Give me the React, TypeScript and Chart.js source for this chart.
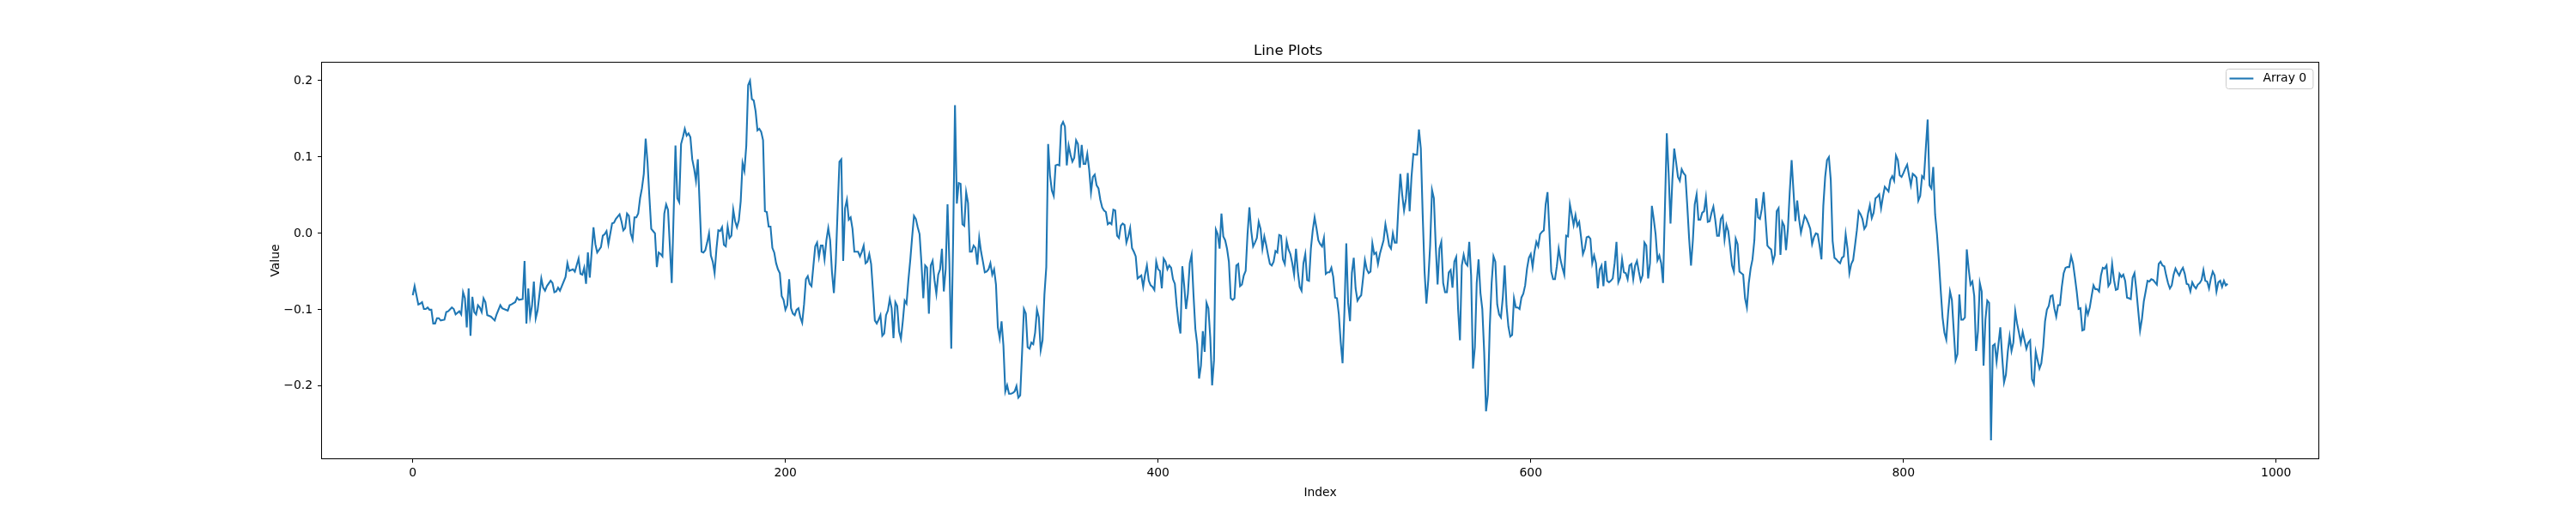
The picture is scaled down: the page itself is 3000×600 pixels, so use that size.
import React, { useEffect, useRef } from "react";
import { Chart, registerables } from "chart.js";

Chart.register(...registerables);

// first stretch of the series: some indices were not readable, so they are listed
const earlyIndex = [
  0, 1, 3, 4, 5, 6, 7, 8, 9, 10,
  11, 12, 13, 14, 15, 17, 18, 19, 21, 22,
  23, 25, 26, 27, 28, 29, 30, 31, 32, 33,
  34, 35, 36, 37, 38, 39, 40, 41, 42, 44,
  45, 47, 48, 50, 51, 52, 53, 55, 56, 57,
  59, 60, 61, 62, 63, 64, 65, 66, 67, 68,
  69, 70, 71, 72, 74, 75, 76, 77, 78, 79,
  80, 82, 83, 84, 86, 87, 89, 90, 91, 92,
  93, 94, 95, 97, 98, 99, 101, 102, 103, 104,
  105, 107, 108, 109, 111, 112, 113, 114, 115, 116,
  117, 118, 119, 120, 121, 122, 123, 124, 125, 126,
  127, 128, 129, 130, 131, 132, 133, 134, 135, 136,
  137, 139, 141, 142, 143, 144, 145, 146, 147, 148,
  149, 150, 151, 152, 153, 154, 155, 156, 157, 158,
  159, 160, 161, 162, 163, 164, 165, 166, 167, 168,
  169, 170, 171, 172, 173, 174, 175, 176, 177, 178,
  179, 180, 181, 182, 183, 184, 185, 186, 187, 188,
  189, 190, 191, 192, 193, 194, 195, 196, 197, 198,
];

const earlyValues = [
  -0.081, -0.069, -0.093, -0.092, -0.09, -0.099, -0.099, -0.097, -0.1, -0.1,
  -0.118, -0.118, -0.111, -0.111, -0.114, -0.113, -0.103, -0.102, -0.097, -0.099,
  -0.106, -0.102, -0.106, -0.077, -0.085, -0.123, -0.072, -0.134, -0.083, -0.103,
  -0.106, -0.094, -0.097, -0.103, -0.085, -0.09, -0.107, -0.108, -0.109, -0.114,
  -0.106, -0.094, -0.098, -0.1, -0.101, -0.094, -0.093, -0.09, -0.084, -0.087,
  -0.086, -0.036, -0.118, -0.072, -0.109, -0.095, -0.063, -0.111, -0.101, -0.08,
  -0.059, -0.071, -0.075, -0.069, -0.062, -0.065, -0.077, -0.076, -0.071, -0.075,
  -0.069, -0.057, -0.039, -0.049, -0.047, -0.05, -0.033, -0.053, -0.054, -0.045,
  -0.066, -0.025, -0.058, 0.008, -0.014, -0.025, -0.018, -0.003, -0.001, 0.003,
  -0.014, 0.013, 0.014, 0.019, 0.025, 0.016, 0.004, 0.007, 0.026, 0.023,
  0.0, -0.008, 0.021, 0.021, 0.026, 0.046, 0.059, 0.078, 0.124, 0.093,
  0.048, 0.006, 0.003, 0.0, -0.044, -0.025, -0.027, -0.03, 0.026, 0.038,
  0.031, -0.065, 0.115, 0.046, 0.041, 0.117, 0.126, 0.137, 0.128, 0.131,
  0.126, 0.097, 0.085, 0.069, 0.097, 0.036, -0.024, -0.025, -0.022, -0.012,
  0.0, -0.029, -0.037, -0.052, -0.02, 0.004, 0.003, 0.008, -0.015, -0.017,
  0.009, -0.006, -0.003, 0.031, 0.016, 0.008, 0.017, 0.042, 0.092, 0.082,
  0.115, 0.194, 0.2, 0.176, 0.174, 0.16, 0.135, 0.137, 0.133, 0.122,
  0.029, 0.028, 0.009, 0.009, -0.019, -0.025, -0.039, -0.047, -0.052, -0.082,
];

// from index 199 on every index was read, one value each
const laterStart = 199;
const laterValues = [
  -0.087, -0.1, -0.094, -0.06, -0.098, -0.105, -0.107, -0.1, -0.098, -0.11,
  -0.117, -0.093, -0.06, -0.056, -0.066, -0.069, -0.043, -0.017, -0.012, -0.031,
  -0.016, -0.016, -0.034, -0.009, 0.007, -0.009, -0.051, -0.078, -0.039, 0.029,
  0.094, 0.097, -0.036, 0.033, 0.044, 0.018, 0.021, 0.006, -0.024, -0.024,
  -0.024, -0.03, -0.024, -0.016, -0.039, -0.037, -0.027, -0.04, -0.076, -0.114,
  -0.118, -0.113, -0.107, -0.134, -0.131, -0.107, -0.101, -0.086, -0.098, -0.137,
  -0.09, -0.095, -0.128, -0.138, -0.115, -0.088, -0.092, -0.061, -0.035, -0.005,
  0.023, 0.019, 0.008, -0.001, -0.039, -0.085, -0.042, -0.045, -0.105, -0.042,
  -0.036, -0.061, -0.079, -0.054, -0.047, -0.02, -0.076, -0.047, 0.038, -0.039,
  -0.151, -0.009, 0.168, 0.039, 0.066, 0.065, 0.012, 0.01, 0.054, 0.04,
  -0.024, -0.024, -0.016, -0.019, -0.041, -0.006, -0.024, -0.037, -0.051, -0.05,
  -0.047, -0.039, -0.054, -0.047, -0.067, -0.123, -0.137, -0.115, -0.147, -0.207,
  -0.199, -0.21, -0.21, -0.209, -0.207, -0.2, -0.215, -0.212, -0.157, -0.099,
  -0.105, -0.149, -0.151, -0.143, -0.145, -0.13, -0.1, -0.11, -0.153, -0.14,
  -0.08, -0.044, 0.117, 0.076, 0.056, 0.049, 0.089, 0.09, 0.089, 0.141,
  0.146, 0.14, 0.089, 0.115, 0.103, 0.094, 0.099, 0.122, 0.117, 0.086,
  0.116, 0.091, 0.091, 0.104, 0.084, 0.054, 0.074, 0.077, 0.063, 0.059,
  0.044, 0.034, 0.03, 0.028, 0.012, 0.014, 0.012, 0.031, 0.03, -0.003,
  -0.006, 0.01, 0.013, 0.011, -0.012, -0.004, 0.007, -0.019, -0.024, -0.03,
  -0.059, -0.057, -0.055, -0.07, -0.054, -0.042, -0.062, -0.068, -0.07, -0.074,
  -0.037, -0.047, -0.049, -0.072, -0.033, -0.037, -0.047, -0.042, -0.045, -0.06,
  -0.066, -0.095, -0.117, -0.131, -0.043, -0.068, -0.099, -0.079, -0.039, -0.028,
  -0.08, -0.125, -0.145, -0.19, -0.173, -0.128, -0.155, -0.091, -0.098, -0.136,
  -0.199, -0.166, 0.005, -0.001, -0.02, 0.026, -0.004, -0.009, -0.02, -0.037,
  -0.085, -0.087, -0.085, -0.042, -0.04, -0.069, -0.067, -0.055, -0.049, -0.001,
  0.034, 0.003, -0.017, -0.012, -0.006, 0.015, 0.006, -0.02, -0.004, -0.015,
  -0.028, -0.04, -0.042, -0.037, -0.023, -0.025, -0.002, -0.003, -0.034, -0.04,
  -0.01, -0.021, -0.027, -0.039, -0.054, -0.02, -0.05, -0.07, -0.075, -0.039,
  -0.027, -0.061, -0.062, -0.02, 0.004, 0.021, 0.007, -0.009, -0.014, -0.017,
  -0.006, -0.053, -0.051, -0.051, -0.045, -0.057, -0.084, -0.085, -0.106, -0.142,
  -0.17, -0.102, -0.013, -0.091, -0.115, -0.052, -0.032, -0.072, -0.088, -0.084,
  -0.081, -0.059, -0.035, -0.047, -0.052, -0.05, -0.013, -0.027, -0.025, -0.04,
  -0.027, -0.018, -0.009, 0.012, -0.001, -0.016, -0.02, 0.0, -0.012, -0.012,
  0.036, 0.078, 0.051, 0.03, 0.045, 0.079, 0.029, 0.074, 0.104, 0.103,
  0.103, 0.136, 0.111, 0.025, -0.05, -0.092, -0.061, -0.016, 0.057, 0.046,
  -0.016, -0.067, -0.02, -0.011, -0.065, -0.077, -0.077, -0.051, -0.048, -0.071,
  -0.037, -0.031, -0.099, -0.14, -0.042, -0.028, -0.039, -0.042, -0.011, -0.055,
  -0.177, -0.149, -0.065, -0.034, -0.078, -0.099, -0.155, -0.233, -0.211, -0.123,
  -0.065, -0.03, -0.037, -0.093, -0.106, -0.11, -0.084, -0.042, -0.095, -0.122,
  -0.135, -0.133, -0.085, -0.097, -0.097, -0.099, -0.084, -0.079, -0.068, -0.046,
  -0.032, -0.027, -0.044, -0.024, -0.011, -0.017, -0.001, 0.002, 0.004, 0.038,
  0.054, 0.003, -0.05, -0.06, -0.06, -0.043, -0.02, -0.035, -0.045, -0.054,
  -0.003, -0.004, 0.038, 0.025, 0.011, 0.024, 0.01, 0.015, -0.005, -0.027,
  -0.02, -0.005, -0.004, -0.007, -0.039, -0.029, -0.039, -0.072, -0.047, -0.042,
  -0.069, -0.036, -0.062, -0.064, -0.062, -0.059, -0.039, -0.011, -0.064, -0.058,
  -0.034, -0.051, -0.052, -0.06, -0.042, -0.04, -0.06, -0.042, -0.036, -0.05,
  -0.062, -0.055, -0.012, -0.016, -0.059, -0.039, 0.036, 0.019, -0.001, -0.035,
  -0.029, -0.039, -0.065, 0.033, 0.131, 0.078, 0.013, 0.07, 0.111, 0.093,
  0.074, 0.069, 0.084, 0.079, 0.076, 0.036, -0.007, -0.042, -0.009, 0.038,
  0.051, 0.018, 0.018, 0.027, 0.029, 0.047, 0.015, 0.016, 0.027, 0.035,
  0.018, -0.003, -0.003, 0.019, 0.023, -0.008, 0.011, 0.003, -0.018, -0.042,
  -0.05, -0.007, -0.014, -0.05, -0.052, -0.054, -0.085, -0.097, -0.065, -0.046,
  -0.034, -0.009, 0.046, 0.021, 0.019, 0.032, 0.054, 0.019, -0.016, -0.019,
  -0.021, -0.037, -0.028, 0.029, 0.033, -0.028, 0.015, 0.01, -0.022, 0.006,
  0.055, 0.096, 0.055, 0.016, 0.043, 0.019, 0.001, 0.012, 0.023, 0.019,
  0.013, 0.006, -0.014, -0.005, 0.0, -0.001, -0.016, -0.034, 0.036, 0.074,
  0.096, 0.1, 0.07, -0.01, -0.032, -0.034, -0.037, -0.039, -0.032, -0.03,
  -0.001, -0.02, -0.052, -0.04, -0.035, -0.016, 0.004, 0.029, 0.025, 0.019,
  0.006, 0.01, 0.026, 0.037, 0.02, 0.027, 0.046, 0.048, 0.051, 0.033,
  0.048, 0.061, 0.058, 0.055, 0.07, 0.075, 0.069, 0.102, 0.096, 0.076,
  0.074, 0.079, 0.085, 0.09, 0.076, 0.063, 0.078, 0.076, 0.073, 0.043,
  0.049, 0.075, 0.072, 0.111, 0.149, 0.063, 0.059, 0.087, 0.025, -0.001,
  -0.035, -0.074, -0.11, -0.13, -0.139, -0.104, -0.076, -0.087, -0.127, -0.166,
  -0.158, -0.08, -0.113, -0.113, -0.11, -0.021, -0.046, -0.067, -0.063, -0.082,
  -0.154, -0.128, -0.065, -0.076, -0.173, -0.113, -0.088, -0.091, -0.271, -0.147,
  -0.145, -0.168, -0.145, -0.123, -0.162, -0.195, -0.185, -0.155, -0.135, -0.154,
  -0.143, -0.102, -0.118, -0.13, -0.143, -0.129, -0.14, -0.151, -0.143, -0.14,
  -0.191, -0.197, -0.155, -0.166, -0.177, -0.17, -0.149, -0.115, -0.1, -0.095,
  -0.082, -0.081, -0.098, -0.109, -0.094, -0.094, -0.07, -0.052, -0.045, -0.044,
  -0.044, -0.03, -0.039, -0.057, -0.076, -0.099, -0.098, -0.127, -0.126, -0.097,
  -0.106, -0.097, -0.082, -0.068, -0.073, -0.073, -0.076, -0.055, -0.045, -0.046,
  -0.042, -0.069, -0.065, -0.04, -0.061, -0.074, -0.073, -0.053, -0.057, -0.054,
  -0.062, -0.084, -0.085, -0.086, -0.058, -0.052, -0.074, -0.101, -0.127, -0.112,
  -0.089, -0.076, -0.062, -0.063, -0.06, -0.061, -0.064, -0.067, -0.04, -0.037,
  -0.042, -0.043, -0.055, -0.065, -0.072, -0.068, -0.054, -0.046, -0.051, -0.055,
  -0.049, -0.045, -0.053, -0.066, -0.067, -0.076, -0.064, -0.069, -0.072, -0.067,
  -0.065, -0.061, -0.048, -0.062, -0.063, -0.072, -0.059, -0.05, -0.055, -0.076,
  -0.064, -0.062, -0.07, -0.062, -0.068, -0.066,
];

const xTicks = [0, 200, 400, 600, 800, 1000];
const yTicks = [-0.2, -0.1, 0.0, 0.1, 0.2];

const seriesLabel = "Array 0";
const chartTitle = "Line Plots";
const xTitle = "Index";
const yTitle = "Value";

const indexValues = [
  ...earlyIndex,
  ...laterValues.map((_, k) => laterStart + k),
];
const seriesValues = [...earlyValues, ...laterValues];

const FONT = "DejaVu Sans";
const LINE_BLUE = "#1f77b4";

// matplotlib-like 5% margins around the data
const marginOf = (lo: number, hi: number) => (hi - lo) * 0.05;
const xLo = Math.min(...indexValues);
const xHi = Math.max(...indexValues);
const yLo = Math.min(...seriesValues);
const yHi = Math.max(...seriesValues);

// axes box + legend drawn the way matplotlib does it (inside the axes)
const framePlugin = {
  id: "axesFrame",
  afterDraw(chart: any) {
    const { ctx, chartArea: a } = chart;
    ctx.save();
    ctx.strokeStyle = "#000";
    ctx.lineWidth = 1;
    ctx.strokeRect(a.left - 0.5, a.top - 0.5, a.right - a.left + 1, a.bottom - a.top + 1);

    const ds = chart.data.datasets[0];
    const fs = 13.9;
    ctx.font = `${fs}px "${FONT}"`;
    const textW = ctx.measureText(ds.label).width;
    const padL = 0.35 * fs;
    const handle = 2 * fs;
    const gap = 0.8 * fs;
    const padR = 0.5 * fs;
    const boxW = padL + handle + gap + textW + padR;
    const boxH = 23;
    const right = a.right - 0.5 * fs;
    const left = right - boxW;
    const top = a.top + 0.5 * fs;
    const midY = top + boxH / 2;

    ctx.beginPath();
    ctx.roundRect(Math.round(left) + 0.5, Math.round(top) + 0.5, boxW, boxH, 3);
    ctx.fillStyle = "rgba(255,255,255,0.8)";
    ctx.fill();
    ctx.strokeStyle = "#cccccc";
    ctx.stroke();

    ctx.beginPath();
    ctx.moveTo(left + padL, midY);
    ctx.lineTo(left + padL + handle, midY);
    ctx.strokeStyle = ds.borderColor;
    ctx.lineWidth = 2.1;
    ctx.stroke();

    ctx.fillStyle = "#000";
    ctx.textAlign = "left";
    ctx.textBaseline = "middle";
    ctx.fillText(ds.label, left + padL + handle + gap, midY);
    ctx.restore();
  },
};

const LinePlots: React.FC = () => {
  const canvasRef = useRef<HTMLCanvasElement>(null);
  const chartRef = useRef<Chart | null>(null);

  useEffect(() => {
    if (!canvasRef.current) return;
    if (chartRef.current) chartRef.current.destroy();

    const tickFont = { family: FONT, size: 13.9 };
    const points = indexValues.map((x, k) => ({ x, y: seriesValues[k] }));

    chartRef.current = new Chart(canvasRef.current, {
      type: "line",
      data: {
        datasets: [
          {
            label: seriesLabel,
            data: points,
            borderColor: LINE_BLUE,
            backgroundColor: LINE_BLUE,
            borderWidth: 2.1,
            pointRadius: 0,
            tension: 0,
            fill: false,
          },
        ],
      },
      options: {
        animation: false,
        responsive: true,
        maintainAspectRatio: false,
        devicePixelRatio: 1,
        layout: { padding: { left: 300, right: 300, top: 0, bottom: 0 } },
        plugins: {
          legend: { display: false },
          tooltip: { enabled: false },
          title: {
            display: true,
            text: chartTitle,
            color: "#000",
            font: { family: FONT, size: 16.7, weight: "normal", lineHeight: 1.2 },
            padding: { top: 49.7, bottom: 3.3 },
          },
        },
        scales: {
          x: {
            type: "linear",
            min: xLo - marginOf(xLo, xHi),
            max: xHi + marginOf(xLo, xHi),
            afterBuildTicks: (scale: any) => {
              scale.ticks = xTicks.map((value) => ({ value }));
            },
            afterFit: (scale: any) => {
              scale.height = 66;
            },
            grid: {
              display: true,
              drawOnChartArea: false,
              drawTicks: true,
              tickLength: 5,
              tickColor: "#000",
              tickWidth: 1,
            },
            border: { display: false },
            ticks: {
              color: "#000",
              font: tickFont,
              padding: 4,
              maxRotation: 0,
              autoSkip: false,
              callback: (v: any) => String(v),
            },
            title: {
              display: true,
              text: xTitle,
              color: "#000",
              font: { ...tickFont, lineHeight: 1.2 },
              padding: { top: 0, bottom: 17.4 },
            },
          },
          y: {
            type: "linear",
            min: yLo - marginOf(yLo, yHi),
            max: yHi + marginOf(yLo, yHi),
            afterBuildTicks: (scale: any) => {
              scale.ticks = yTicks.map((value) => ({ value }));
            },
            afterFit: (scale: any) => {
              scale.width = 75;
            },
            grid: {
              display: true,
              drawOnChartArea: false,
              drawTicks: true,
              tickLength: 5,
              tickColor: "#000",
              tickWidth: 1,
            },
            border: { display: false },
            ticks: {
              color: "#000",
              font: tickFont,
              padding: 6,
              autoSkip: false,
              callback: (v: any) => Number(v).toFixed(1).replace("-", "\u2212"),
            },
            title: {
              display: true,
              text: yTitle,
              color: "#000",
              font: { ...tickFont, lineHeight: 1.2 },
              padding: { top: 12.7, bottom: 0 },
            },
          },
        },
      },
      plugins: [framePlugin],
    } as any);

    return () => {
      if (chartRef.current) {
        chartRef.current.destroy();
        chartRef.current = null;
      }
    };
  }, []);

  return (
    <div
      style={{
        position: "fixed",
        left: 0,
        top: 0,
        width: 3000,
        height: 600,
        background: "#fff",
      }}
    >
      <canvas ref={canvasRef} />
    </div>
  );
};

export default function App() {
  return <LinePlots />;
}
